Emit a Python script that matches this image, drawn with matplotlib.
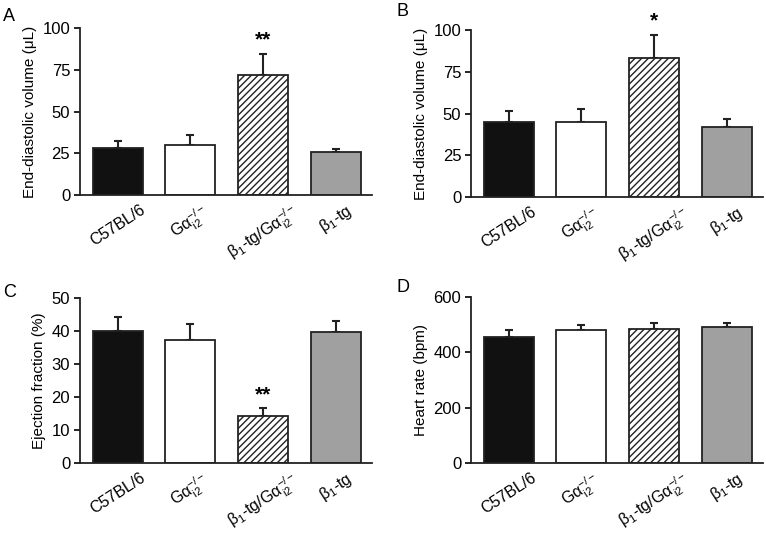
import matplotlib
matplotlib.use("Agg")
import matplotlib.pyplot as plt
import numpy as np

plt.rcParams['font.family'] = ['Liberation Sans', 'DejaVu Sans']
plt.rcParams['mathtext.fontset'] = 'custom'
plt.rcParams['mathtext.rm'] = 'Liberation Sans'
plt.rcParams['mathtext.it'] = 'Liberation Sans:italic'
plt.rcParams['mathtext.bf'] = 'Liberation Sans:bold'
plt.rcParams['hatch.linewidth'] = 1.0

categories = ['C57BL/6', r'Gα$_{\mathrm{i2}}^{\mathrm{-/-}}$',
              r'β$_{\mathrm{1}}$-tg/Gα$_{\mathrm{i2}}^{\mathrm{-/-}}$', r'β$_{\mathrm{1}}$-tg']

edv_a = [28, 30, 72, 25.5]
edv_a_err = [4.5, 6, 12.5, 2.3]
edv_b = [45.2, 45.2, 83.5, 42.2]
edv_b_err = [6.4, 7.4, 13.5, 4.4]
ef = [40.0, 37.3, 14.3, 39.7]
ef_err = [4.1, 4.9, 2.3, 3.4]
hr = [456, 482, 486, 490]
hr_err = [23, 18, 20, 16]

stars_a = ['', '', '**', '']
stars_b = ['', '', '*', '']
stars_c = ['', '', '**', '']
stars_d = ['', '', '', '']

fills = ['#111111', 'white', 'white', '#a0a0a0']
hatches = [None, None, '/////', None]

panels = [
    ('A', edv_a, edv_a_err, stars_a, 'End-diastolic volume (μL)', 100, [0, 25, 50, 75, 100],
     [0.1044, 0.634, 0.3812, 0.3135], (0.004, 0.985)),
    ('B', edv_b, edv_b_err, stars_b, 'End-diastolic volume (μL)', 100, [0, 25, 50, 75, 100],
     [0.615, 0.6304, 0.381, 0.3133], (0.517, 0.994)),
    ('C', ef, ef_err, stars_c, 'Ejection fraction (%)', 50, [0, 10, 20, 30, 40, 50],
     [0.1044, 0.1313, 0.3812, 0.3096], (0.004, 0.467)),
    ('D', hr, hr_err, stars_d, 'Heart rate (bpm)', 600, [0, 200, 400, 600],
     [0.615, 0.1313, 0.381, 0.3115], (0.517, 0.477)),
]

fig = plt.figure(figsize=(7.66, 5.33), dpi=100)

for letter, vals, errs, stars, ylabel, ymax, yticks, rect, lpos in panels:
    ax = fig.add_axes(rect)
    x = np.arange(len(vals))
    for i in range(len(vals)):
        ax.bar(x[i], vals[i], width=0.69, color=fills[i], edgecolor='#222222',
               linewidth=1.3, hatch=hatches[i], zorder=2)
        ax.errorbar(x[i], vals[i], yerr=[[0], [errs[i]]], fmt='none', ecolor='#222222',
                    elinewidth=1.5, capsize=3, capthick=1.5, zorder=1)
        if stars[i]:
            ax.text(x[i], vals[i] + errs[i] + ymax * 0.025, stars[i], ha='center', va='bottom',
                    fontsize=15, fontweight='bold', clip_on=False)
    ax.set_xlim(-0.52, 3.5)
    ax.set_ylim(0, ymax)
    ax.set_yticks(yticks)
    ax.set_xticks(x)
    ax.set_xticklabels(categories, rotation=33, ha='center', fontsize=11.5)
    ax.tick_params(axis='x', length=0, pad=5)
    ax.tick_params(axis='y', labelsize=12, length=4, width=1.2, direction='out', pad=3)
    ax.set_ylabel(ylabel, fontsize=11)
    for s in ['top', 'right']:
        ax.spines[s].set_visible(False)
    for s in ['left', 'bottom']:
        ax.spines[s].set_linewidth(1.3)
        ax.spines[s].set_color('#222222')
    fig.text(lpos[0], lpos[1], letter, fontsize=13, ha='left', va='top')

fig.savefig('out.png', dpi=100)
